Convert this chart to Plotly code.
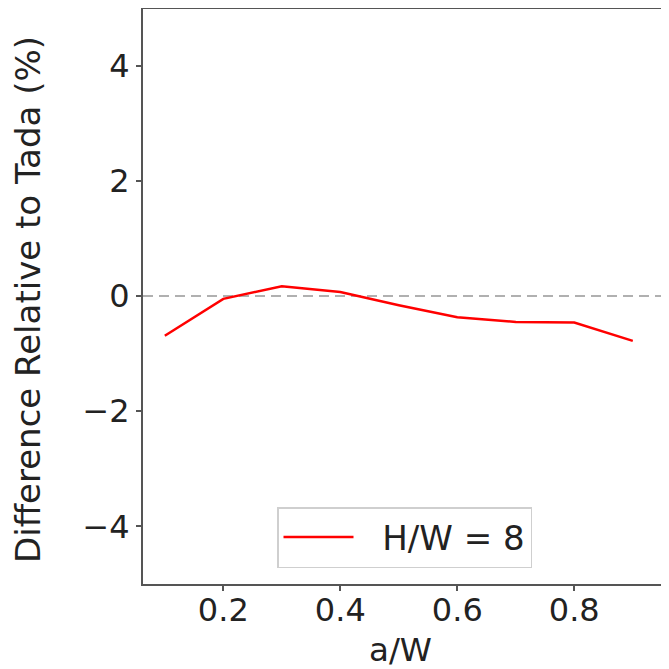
import plotly.graph_objects as go

a_over_w = [0.1, 0.2, 0.3, 0.4, 0.5, 0.6, 0.7, 0.8, 0.9]
diff_pct = [-0.69, -0.05, 0.17, 0.07, -0.16, -0.37, -0.45, -0.46, -0.78]
series_name = "H/W = 8"
x_ticks = [0.2, 0.4, 0.6, 0.8]
x_tick_labels = ["0.2", "0.4", "0.6", "0.8"]
y_ticks = [-4, -2, 0, 2, 4]
y_tick_labels = ["\u22124", "\u22122", "0", "2", "4"]
x_title = "a/W"
y_title = "Difference Relative to Tada (%)"

FONT = "DejaVu Sans"
AX = "#555555"
TXT = "#222222"

# page has an 8px body margin; plot box targets screen px 143..(cropped right) x 8..584
L, T, B, R = 135, 0, 93, 0
PW, PH = 669 - L - R, 669 - T - B


def px_x(sx):
    return (sx - 8 - L) / PW


def px_y(sy):
    return (669 - B - (sy - 8)) / PH


fig = go.Figure()
fig.add_trace(go.Scatter(
    x=a_over_w, y=diff_pct, mode="lines", name="\u2002\u2009" + series_name,
    line=dict(color="#ff0000", width=2.5),
))

fig.add_hline(y=0, line=dict(color="#b0b0b0", width=2, dash="10px,6px"), layer="below")
fig.add_shape(type="line", xref="paper", yref="paper", x0=0, x1=1, y0=1, y1=1,
              line=dict(color=AX, width=2))

fig.add_annotation(text=y_title, xref="paper", yref="paper",
                   x=px_x(28), y=px_y(300), xanchor="center", yanchor="middle",
                   textangle=-90, showarrow=False,
                   font=dict(family=FONT, size=34, color=TXT))
fig.add_annotation(text=x_title, xref="paper", yref="paper",
                   x=px_x(400), y=px_y(650), xanchor="center", yanchor="middle",
                   showarrow=False,
                   font=dict(family=FONT, size=32.5, color=TXT))

fig.update_layout(
    width=669, height=669,
    margin=dict(l=L, r=R, t=T, b=B),
    paper_bgcolor="white", plot_bgcolor="white",
    font=dict(family=FONT, size=32, color=TXT),
    showlegend=True,
    legend=dict(
        x=px_x(277), y=px_y(507), xanchor="left", yanchor="top",
        bgcolor="white", bordercolor="#cfcfcf", borderwidth=1.5,
        font=dict(family=FONT, size=34, color=TXT),
        itemwidth=70,
    ),
    xaxis=dict(
        range=[0.0627, 0.9756], tickvals=x_ticks, ticktext=x_tick_labels,
        showgrid=False, zeroline=False, showline=True, linecolor=AX, linewidth=2,
        ticks="outside", ticklen=5, tickwidth=1.5, tickcolor=AX,
        automargin=False, ticklabelstandoff=-8,
    ),
    yaxis=dict(
        range=[-5, 5], tickvals=y_ticks, ticktext=y_tick_labels,
        showgrid=False, zeroline=False, showline=True, linecolor=AX, linewidth=2,
        ticks="outside", ticklen=5, tickwidth=1.5, tickcolor=AX,
        automargin=False,
    ),
)

fig.write_html("out.html")
